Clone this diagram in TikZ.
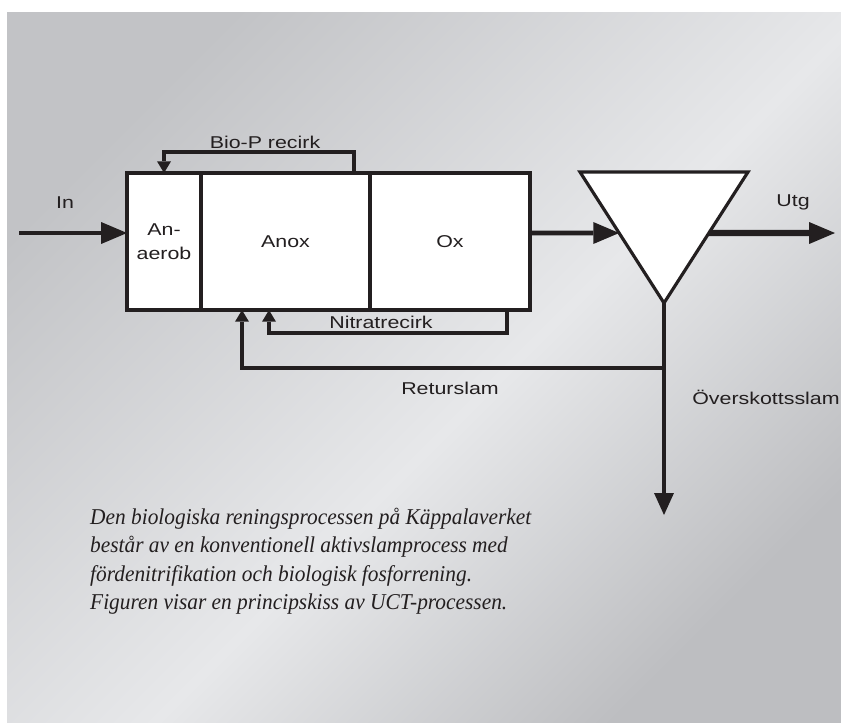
\documentclass[tikz,border=0pt]{standalone}
\usepackage{fontspec}
\newfontfamily\lblfont[FakeStretch=1.25]{Liberation Sans}
\newfontfamily\capfont[FakeStretch=0.945]{Liberation Serif}
\usetikzlibrary{arrows.meta,calc}

\definecolor{ink}{HTML}{231F20}
\definecolor{bgdark}{HTML}{C2C3C6}
\definecolor{bglight}{HTML}{E7E8EA}
\definecolor{bgdarker}{HTML}{BDBEC1}
\pgfdeclarehorizontalshading{bgshade}{100bp}{color(0bp)=(bgdark); color(25bp)=(bgdark); color(54bp)=(bglight); color(75bp)=(bgdarker); color(100bp)=(bgdarker)}

\tikzset{
  tank/.style={draw=ink,fill=white,line width=2.7pt,minimum height=4.11cm,
    outer sep=0pt,inner sep=0pt,align=center,font=\lblfont\fontsize{14.6}{20.4}\selectfont,text=ink},
  lbl/.style={font=\lblfont\fontsize{14.6}{20.4}\selectfont,text=ink,inner sep=0pt},
  feed/.style={draw=ink,line width=4.2pt,-{Triangle[length=22pt,width=18.7pt,line width=0pt]}},
  recirc/.style={draw=ink,line width=2.6pt,-{Triangle[length=10pt,width=12pt,line width=0pt]}}
}

\begin{document}
\begin{tikzpicture}[x=0.03cm,y=-0.03cm,line join=miter]
  \useasboundingbox (0,0) rectangle (841,722);
  \shade[shading=bgshade,shading angle=-45] (7,12) rectangle (841,722);

  % tanks
  \node[tank,minimum width=2.22cm] (anaer) at (164,241.5) {An-\\aerob};
  \node[tank,minimum width=5.07cm] (anox) at (285.5,241.5) {Anox};
  \node[tank,minimum width=4.8cm] (ox) at (450,241.5) {Ox};

  % settler
  \coordinate (stl) at (580,172);
  \coordinate (str) at (748,172);
  \coordinate (sbot) at (664,303);
  \draw[ink,fill=white,line width=2.7pt] (stl) -- (str) -- (sbot) -- cycle;

  % main flow
  \coordinate (in) at (19,233);
  \coordinate (oxout) at (ox.east |- in);
  \coordinate (utg) at (835,233);
  \draw[feed] (in) -- (anaer.west |- in);
  \draw[feed] (oxout) -- (intersection of stl--sbot and in--oxout);
  \draw[feed,line width=5.5pt] (intersection of str--sbot and in--oxout) -- (utg);

  % sludge
  \coordinate (split) at (664,368);
  \coordinate (waste) at (664,515);
  \draw[draw=ink,line width=3.4pt,-{Triangle[length=18.7pt,width=17pt,line width=0pt]}] (sbot) -- (waste);
  \draw[recirc,line width=2.8pt] (split) -| ($(anox.south west)+(41,0)$);

  % recirculations
  \coordinate (biop) at (354,152);
  \coordinate (nitr) at (507,333);
  \draw[recirc] (biop |- anox.north) -- (biop) -| (anaer.north);
  \draw[recirc] (nitr |- ox.south) -- (nitr) -| ($(anox.south west)+(68,0)$);

  % labels
  \node[lbl] (inlbl) at (65,203) {In};
  \node[lbl] (biolbl) at (265,142.5) {Bio-P recirk};
  \node[lbl] (utglbl) at (793,202) {Utg};
  \node[lbl] (nitrlbl) at (381,322) {Nitratrecirk};
  \node[lbl] (retlbl) at (450,388) {Returslam};
  \node[lbl] (overlbl) at (766,397) {Överskottsslam};

  \node[anchor=north west,align=left,inner sep=0pt,text=ink,
    font=\capfont\itshape\fontsize{19.3}{24.2}\selectfont] (caption) at (90,508)
    {Den biologiska reningsprocessen på Käppalaverket\\
     består av en konventionell aktivslamprocess med\\
     fördenitrifikation och biologisk fosforrening.\\
     Figuren visar en principskiss av UCT-processen.};
\end{tikzpicture}
\end{document}
